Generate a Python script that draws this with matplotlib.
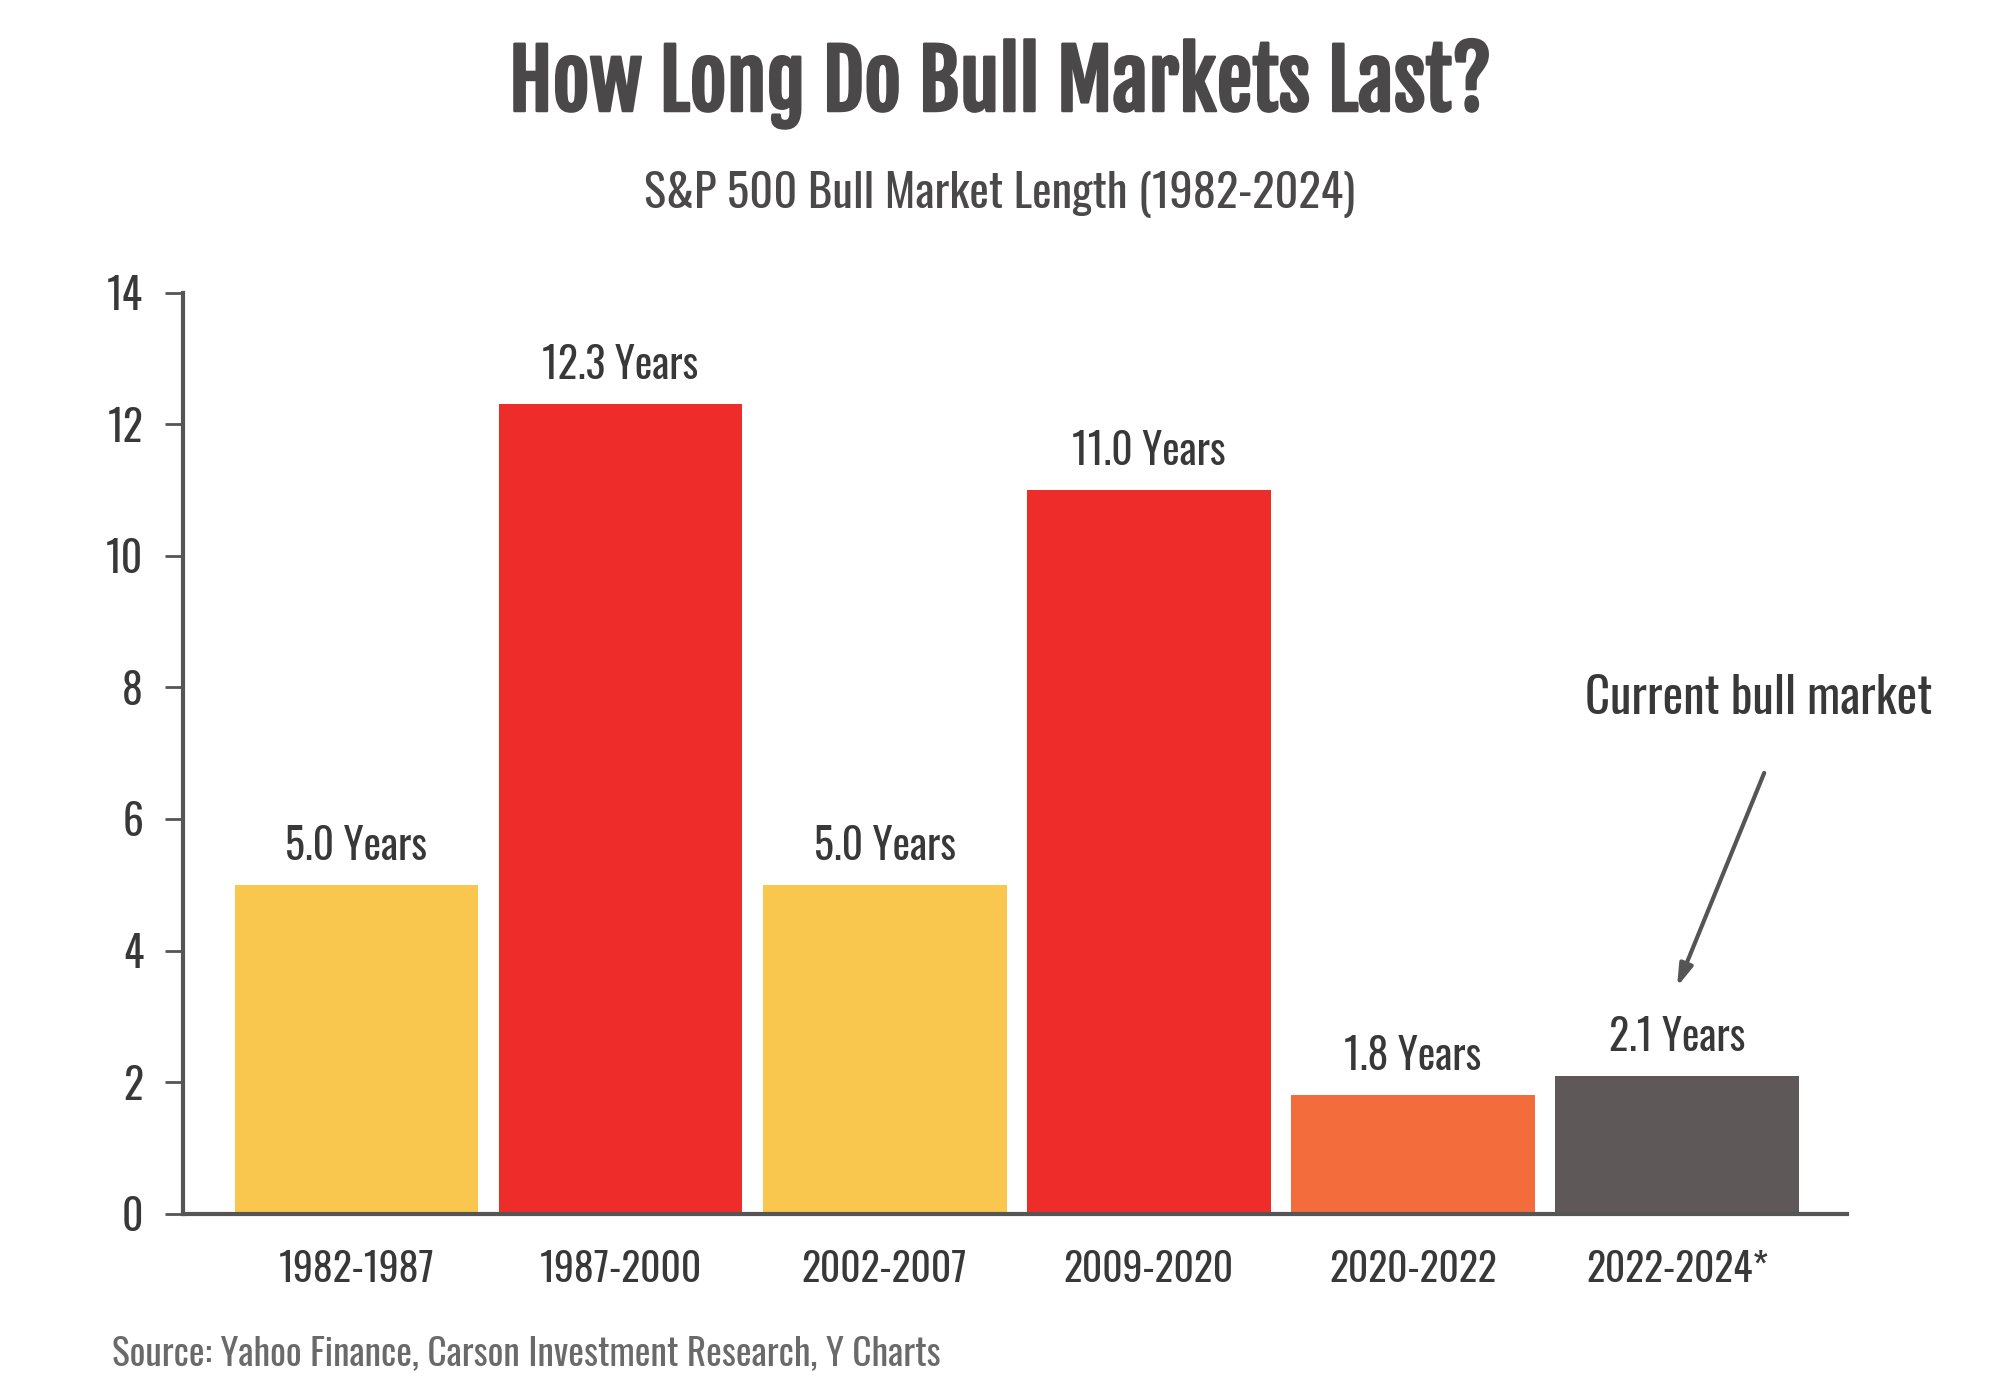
import matplotlib
matplotlib.use("Agg")
import matplotlib.pyplot as plt
import matplotlib.patheffects as pe

periods = ["1982-1987", "1987-2000", "2002-2007", "2009-2020", "2020-2022", "2022-2024*"]
years = [5.0, 12.3, 5.0, 11.0, 1.8, 2.1]
bar_labels = ["5.0 Years", "12.3 Years", "5.0 Years", "11.0 Years", "1.8 Years", "2.1 Years"]
bar_colors = ["#F9C74E", "#EE2D2A", "#F9C74E", "#EE2D2A", "#F36C3B", "#5E5958"]
yticks = [0, 2, 4, 6, 8, 10, 12, 14]

# condensed gothic look; fall back through narrower families
plt.rcParams["font.family"] = ["Oswald", "Antonio", "Barlow Condensed", "DejaVu Sans"]
plt.rcParams["font.weight"] = 300
title_fonts = ["Fjalla One", "Oswald", "Barlow Condensed", "DejaVu Sans"]

text_col = "#383838"
axis_col = "#555555"
title_col = "#4a4848"

fig = plt.figure(figsize=(20, 14), dpi=100)
ax = fig.add_axes([0.0917, 0.133, 0.832, 0.658])

x = list(range(len(periods)))
ax.bar(x, years, width=0.923, color=bar_colors)

for xi, v, lab in zip(x, years, bar_labels):
    ax.annotate(lab, (xi, v), xytext=(0, 18), textcoords="offset points",
                ha="center", va="baseline", fontsize=30, color=text_col)

ax.set_xlim(-0.655, 5.645)
ax.set_ylim(0, 14)
ax.set_yticks(yticks)
ax.set_xticks(x)
ax.set_xticklabels(periods)

for s in ["top", "right"]:
    ax.spines[s].set_visible(False)
for s in ["left", "bottom"]:
    ax.spines[s].set_color(axis_col)
    ax.spines[s].set_linewidth(3)

ax.tick_params(axis="y", length=13, width=2, color=axis_col, pad=16,
               labelsize=30, labelcolor=text_col)
ax.tick_params(axis="x", length=0, pad=26, labelsize=28.5, labelcolor=text_col)

# arrow to current bull market
ax.annotate("", xy=(5, 3.45), xytext=(5.33, 6.7),
            arrowprops=dict(arrowstyle="-|>,head_length=1.3,head_width=0.4",
                            color=axis_col, lw=3, shrinkA=0, shrinkB=0))
ax.text(5.31, 7.83, "Current bull market", ha="center", va="center",
        fontsize=35, color=text_col, fontweight=400)

fig.text(0.5, 0.94, "How Long Do Bull Markets Last?", ha="center", va="center",
         fontsize=58, family=title_fonts, color=title_col,
         path_effects=[pe.withStroke(linewidth=1.8, foreground=title_col)])
fig.text(0.5, 0.861, "S&P 500 Bull Market Length (1982-2024)", ha="center",
         va="center", fontsize=33.5, color=title_col)
fig.text(0.056, 0.033, "Source: Yahoo Finance, Carson Investment Research, Y Charts",
         ha="left", va="center", fontsize=26.8, color="#6a6a6a")

fig.savefig("out.png", dpi=100, facecolor="white")
